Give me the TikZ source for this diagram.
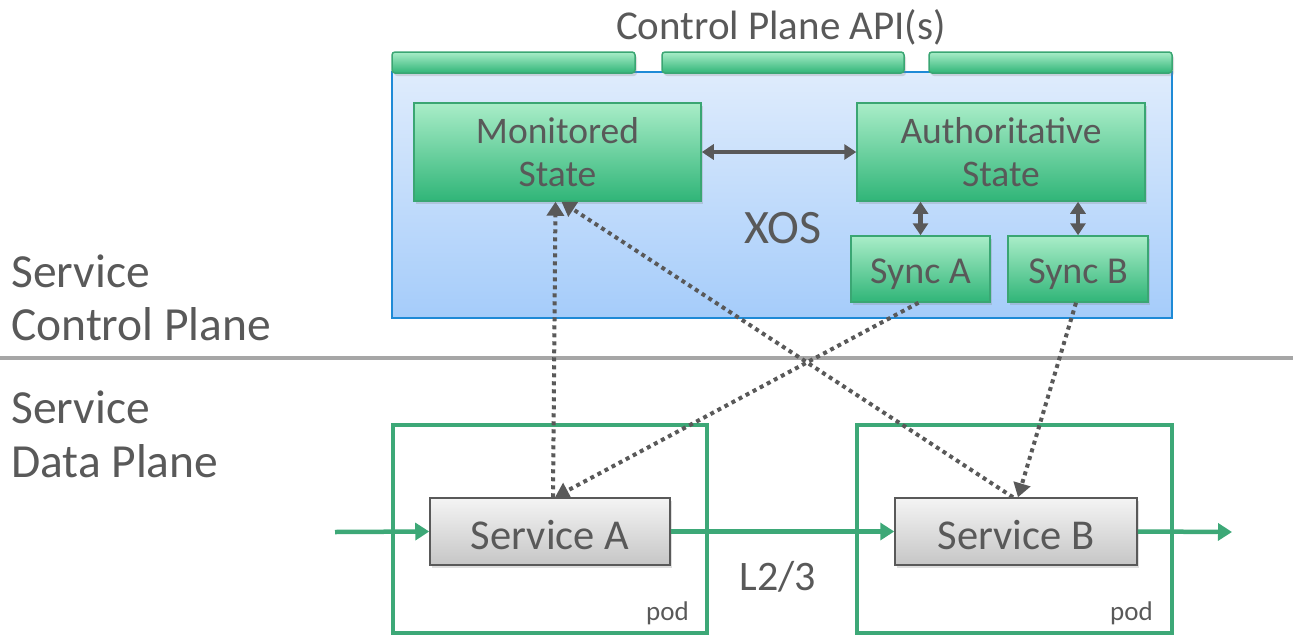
\documentclass[tikz,border=0pt]{standalone}
\usepackage{fontspec}
\setmainfont{Carlito}
\usetikzlibrary{arrows.meta,shadows}
\definecolor{txt}{HTML}{595959}
\definecolor{gtop}{HTML}{A9EDC8}
\definecolor{gbot}{HTML}{30B578}
\definecolor{gline}{HTML}{3AA673}
\definecolor{podg}{HTML}{3DA877}
\definecolor{btop}{HTML}{DFECFC}
\definecolor{bbot}{HTML}{A5CCFA}
\definecolor{bline}{HTML}{1E8AD6}
\definecolor{stop}{HTML}{F4F4F4}
\definecolor{sbot}{HTML}{C6C6C6}
\definecolor{divc}{HTML}{A6A6A6}
\definecolor{arr}{HTML}{595959}
\tikzset{
  fs/.style={font=\fontsize{#1}{#1}\selectfont},
  greenbox/.style={draw=gline, line width=1.5pt, top color=gtop, bottom color=gbot,
    text=txt, align=center, inner sep=0pt,
    drop shadow={shadow xshift=2pt, shadow yshift=-3pt, opacity=0.25}},
  tab/.style={greenbox, rounded corners=3pt, minimum height=21pt},
  xosbox/.style={draw=bline, line width=1.5pt, top color=btop, bottom color=bbot, inner sep=0pt},
  svcbox/.style={draw=arr, line width=1.5pt, top color=stop, bottom color=sbot, text=txt,
    inner sep=0pt, minimum width=240pt, minimum height=67pt, fs=42.5,
    drop shadow={shadow xshift=2pt, shadow yshift=-3pt, opacity=0.25}},
  podbox/.style={draw=podg, line width=4pt, inner sep=0pt},
  lbl/.style={text=txt, inner sep=0pt},
  dbl/.style={draw=arr, line width=4.5pt, {Triangle[length=12pt,width=15pt]}-{Triangle[length=12pt,width=15pt]}},
  dotarr/.style={draw=arr, line width=4pt, dash pattern=on 4pt off 4pt, -{Triangle[length=14pt,width=17pt]}},
  flow/.style={draw=podg, line width=4.5pt, -{Triangle[length=14pt,width=17pt]}},
}
\newcommand{\lowered}[2]{\raisebox{-#1}[\height][\depth]{#2}}
\begin{document}
\begin{tikzpicture}[x=1pt,y=-1pt]
\useasboundingbox (0,0) rectangle (1293,635);
% XOS container
\node[xosbox, minimum width=780pt, minimum height=246pt] (xos) at (782,195) {};
\node[tab, minimum width=243pt] (tab1) at (513.5,62.5) {};
\node[tab, minimum width=242pt] (tab2) at (783,62.5) {};
\node[tab, minimum width=243pt] (tab3) at (1050.5,62.5) {};
\node[lbl, fs=41] (api) at (781,27) {Control Plane API(s)};
\node[lbl, fs=48] (xoslbl) at (783,228) {XOS};
% state boxes
\node[greenbox, minimum width=287pt, minimum height=98pt, fs=37.5] (mon) at (557.5,152) {Monitored\\[6pt]State};
\node[greenbox, minimum width=288pt, minimum height=98pt, fs=37.5] (auth) at (1001,152) {Authoritative\\[6pt]State};
\node[greenbox, minimum width=139pt, minimum height=66pt, fs=38] (syncA) at (920.5,269) {\lowered{5pt}{Sync A}};
\node[greenbox, minimum width=140pt, minimum height=66pt, fs=38] (syncB) at (1078,269) {\lowered{5pt}{Sync B}};
\draw[dbl] (mon) -- (auth);
\draw[dbl] (auth.south -| syncA) -- (syncA.north);
\draw[dbl] (auth.south -| syncB) -- (syncB.north);
% divider
\coordinate (divL) at (0,358);
\coordinate (divR) at (1293,358);
\draw[divc, line width=4pt] (divL) -- (divR);
% side labels
\node[lbl, fs=47.5, anchor=base west] (cp1) at (11,287) {Service};
\node[lbl, fs=47.5, anchor=base west] (cp2) at (11,340) {Control Plane};
\node[lbl, fs=47.5, anchor=base west] (dp1) at (11,423) {Service};
\node[lbl, fs=47.5, anchor=base west] (dp2) at (11,477) {Data Plane};
% pods
\node[podbox, minimum width=314pt, minimum height=208pt] (podA) at (550,529) {};
\node[podbox, minimum width=315pt, minimum height=208pt] (podB) at (1014.5,529) {};
\node[lbl, fs=27, anchor=base east] (podAl) at (689,620) {pod};
\node[lbl, fs=27, anchor=base east] (podBl) at (1153,620) {pod};
% services
\node[svcbox] (svcA) at (550,531.5) {\lowered{4pt}{Service A}};
\node[svcbox, minimum width=242pt] (svcB) at (1016,531.5) {\lowered{4pt}{Service B}};
\node[lbl, fs=42] (l23) at (778,577) {L2/3};
% flow
\coordinate (in) at (335,532);
\coordinate (out) at (1232,532);
\draw[flow] (in) -- (svcA.west);
\draw[flow] (svcA.east) -- (svcB.west);
\draw[flow] (svcB.east) -- (out);
% dotted
\draw[dotarr] ([xshift=3pt]svcA.north) -- ([xshift=-2pt]mon.south);
\draw[dotarr] ([xshift=-2pt]syncA.south) -- ([xshift=5pt]svcA.north);
\draw[dotarr] ([xshift=-3pt]svcB.north) -- ([xshift=4pt]mon.south);
\draw[dotarr] ([xshift=-2pt]syncB.south) -- ([xshift=2pt]svcB.north);
\end{tikzpicture}
\end{document}
